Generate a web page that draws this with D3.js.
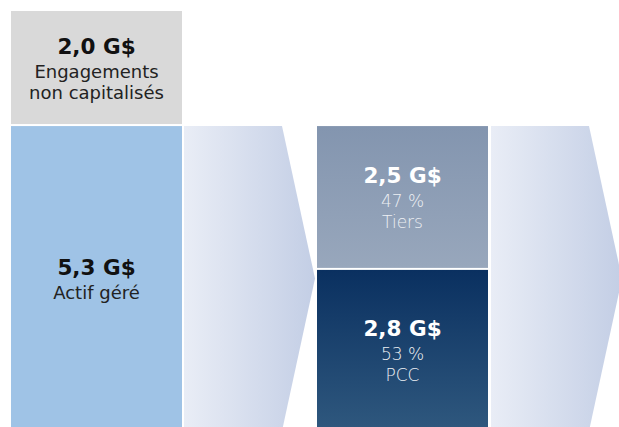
<!DOCTYPE html>
<html>
<meta charset="utf-8">
<style>
body { margin: 0; background: #fff; }
svg { display: block; }
text { font-family: "DejaVu Sans", sans-serif; text-anchor: middle; }
.val { font-weight: bold; font-size: 21.5px; }
.lbl { font-size: 18px; }
.sub { font-size: 17px; font-weight: 300; }
</style>
<body>
<svg id="chart" width="619" height="427"></svg>

<script src="https://d3js.org/d3.v7.min.js"></script>
<script>
// colonne de gauche (du bas vers le haut)
var leftLabels = ["Actif géré", "Engagements non capitalisés"];
var leftValues = [5.3, 2.0];
// colonne de droite : répartition de l'actif géré
var rightLabels = ["PCC", "Tiers"];
var rightValues = [2.8, 2.5];
var rightShares = [53, 47];

var fmt = function(v) { return d3.format(".1f")(v).replace(".", ",") + " G$"; };

var svg = d3.select("#chart");
var gap = 2;

var total = d3.sum(leftValues);
var y = d3.scaleLinear()
	.domain([0, total])
	.range([431, 11]);

// colonnes : boîte, flèche, boîte, flèche
var colX = [11, 184, 317, 491];
var boxW = 171, arrowW = 131, arrowBody = 98;

var defs = svg.append("defs");

function vgrad(id, c0, c1) {
	var g = defs.append("linearGradient").attr("id", id)
		.attr("x1", 0).attr("y1", 0).attr("x2", 0).attr("y2", 1);
	g.append("stop").attr("offset", "0%").attr("stop-color", c0);
	g.append("stop").attr("offset", "100%").attr("stop-color", c1);
}
var ag = defs.append("linearGradient").attr("id", "arrowGrad");
ag.append("stop").attr("offset", "0%").attr("stop-color", "#e9edf6");
ag.append("stop").attr("offset", "100%").attr("stop-color", "#c3cee5");
vgrad("tiersGrad", "#8395af", "#98a7bc");
vgrad("pccGrad", "#0a3060", "#2f587e");

function stack(values) {
	var cum = 0;
	return values.map(function(v, i) {
		var s = {i: i, v: v, y0: cum, y1: cum + v};
		cum += v;
		return s;
	});
}

function textBlock(g, cx, cy, lines, classes, fill) {
	var first = cy - 14 + (3 - lines.length) * 10.5;
	var offs = [0, 24, 45];
	lines.forEach(function(t, k) {
		g.append("text")
			.attr("class", classes[k])
			.attr("x", cx)
			.attr("y", first + offs[k])
			.attr("fill", fill[k])
			.text(t);
	});
}

// colonne gauche
var leftFill = ["#9fc3e6", "#d9d9d9"];
stack(leftValues).forEach(function(s) {
	var top = y(s.y1), bot = y(s.y0) - (s.i > 0 ? gap : 0);
	svg.append("rect")
		.attr("x", colX[0]).attr("y", top)
		.attr("width", boxW).attr("height", bot - top)
		.attr("fill", leftFill[s.i]);
	var words = s.i === 1 ? ["Engagements", "non capitalisés"] : [leftLabels[s.i]];
	textBlock(svg, colX[0] + boxW / 2, (top + bot) / 2,
		[fmt(s.v)].concat(words), ["val", "lbl", "lbl"], ["#111", "#222", "#222"]);
});

// colonne droite
var rightFill = ["url(#pccGrad)", "url(#tiersGrad)"];
stack(rightValues).forEach(function(s) {
	var top = y(s.y1), bot = y(s.y0) - (s.i > 0 ? gap : 0);
	svg.append("rect")
		.attr("x", colX[2]).attr("y", top)
		.attr("width", boxW).attr("height", bot - top)
		.attr("fill", rightFill[s.i]);
	textBlock(svg, colX[2] + boxW / 2, (top + bot) / 2,
		[fmt(s.v), rightShares[s.i] + " %", rightLabels[s.i]],
		["val", "sub", "sub"], ["#fff", "#edf0f4", "#edf0f4"]);
});

// flèches
var aTop = y(leftValues[0]), aBot = y(0);
[colX[1], colX[3]].forEach(function(x0) {
	var pts = [
		[x0, aTop], [x0 + arrowBody, aTop],
		[x0 + arrowW, (aTop + aBot) / 2],
		[x0 + arrowBody, aBot], [x0, aBot]
	];
	svg.append("path")
		.attr("d", d3.line()(pts) + "Z")
		.attr("fill", "url(#arrowGrad)");
});
</script>
</body>
</html>
